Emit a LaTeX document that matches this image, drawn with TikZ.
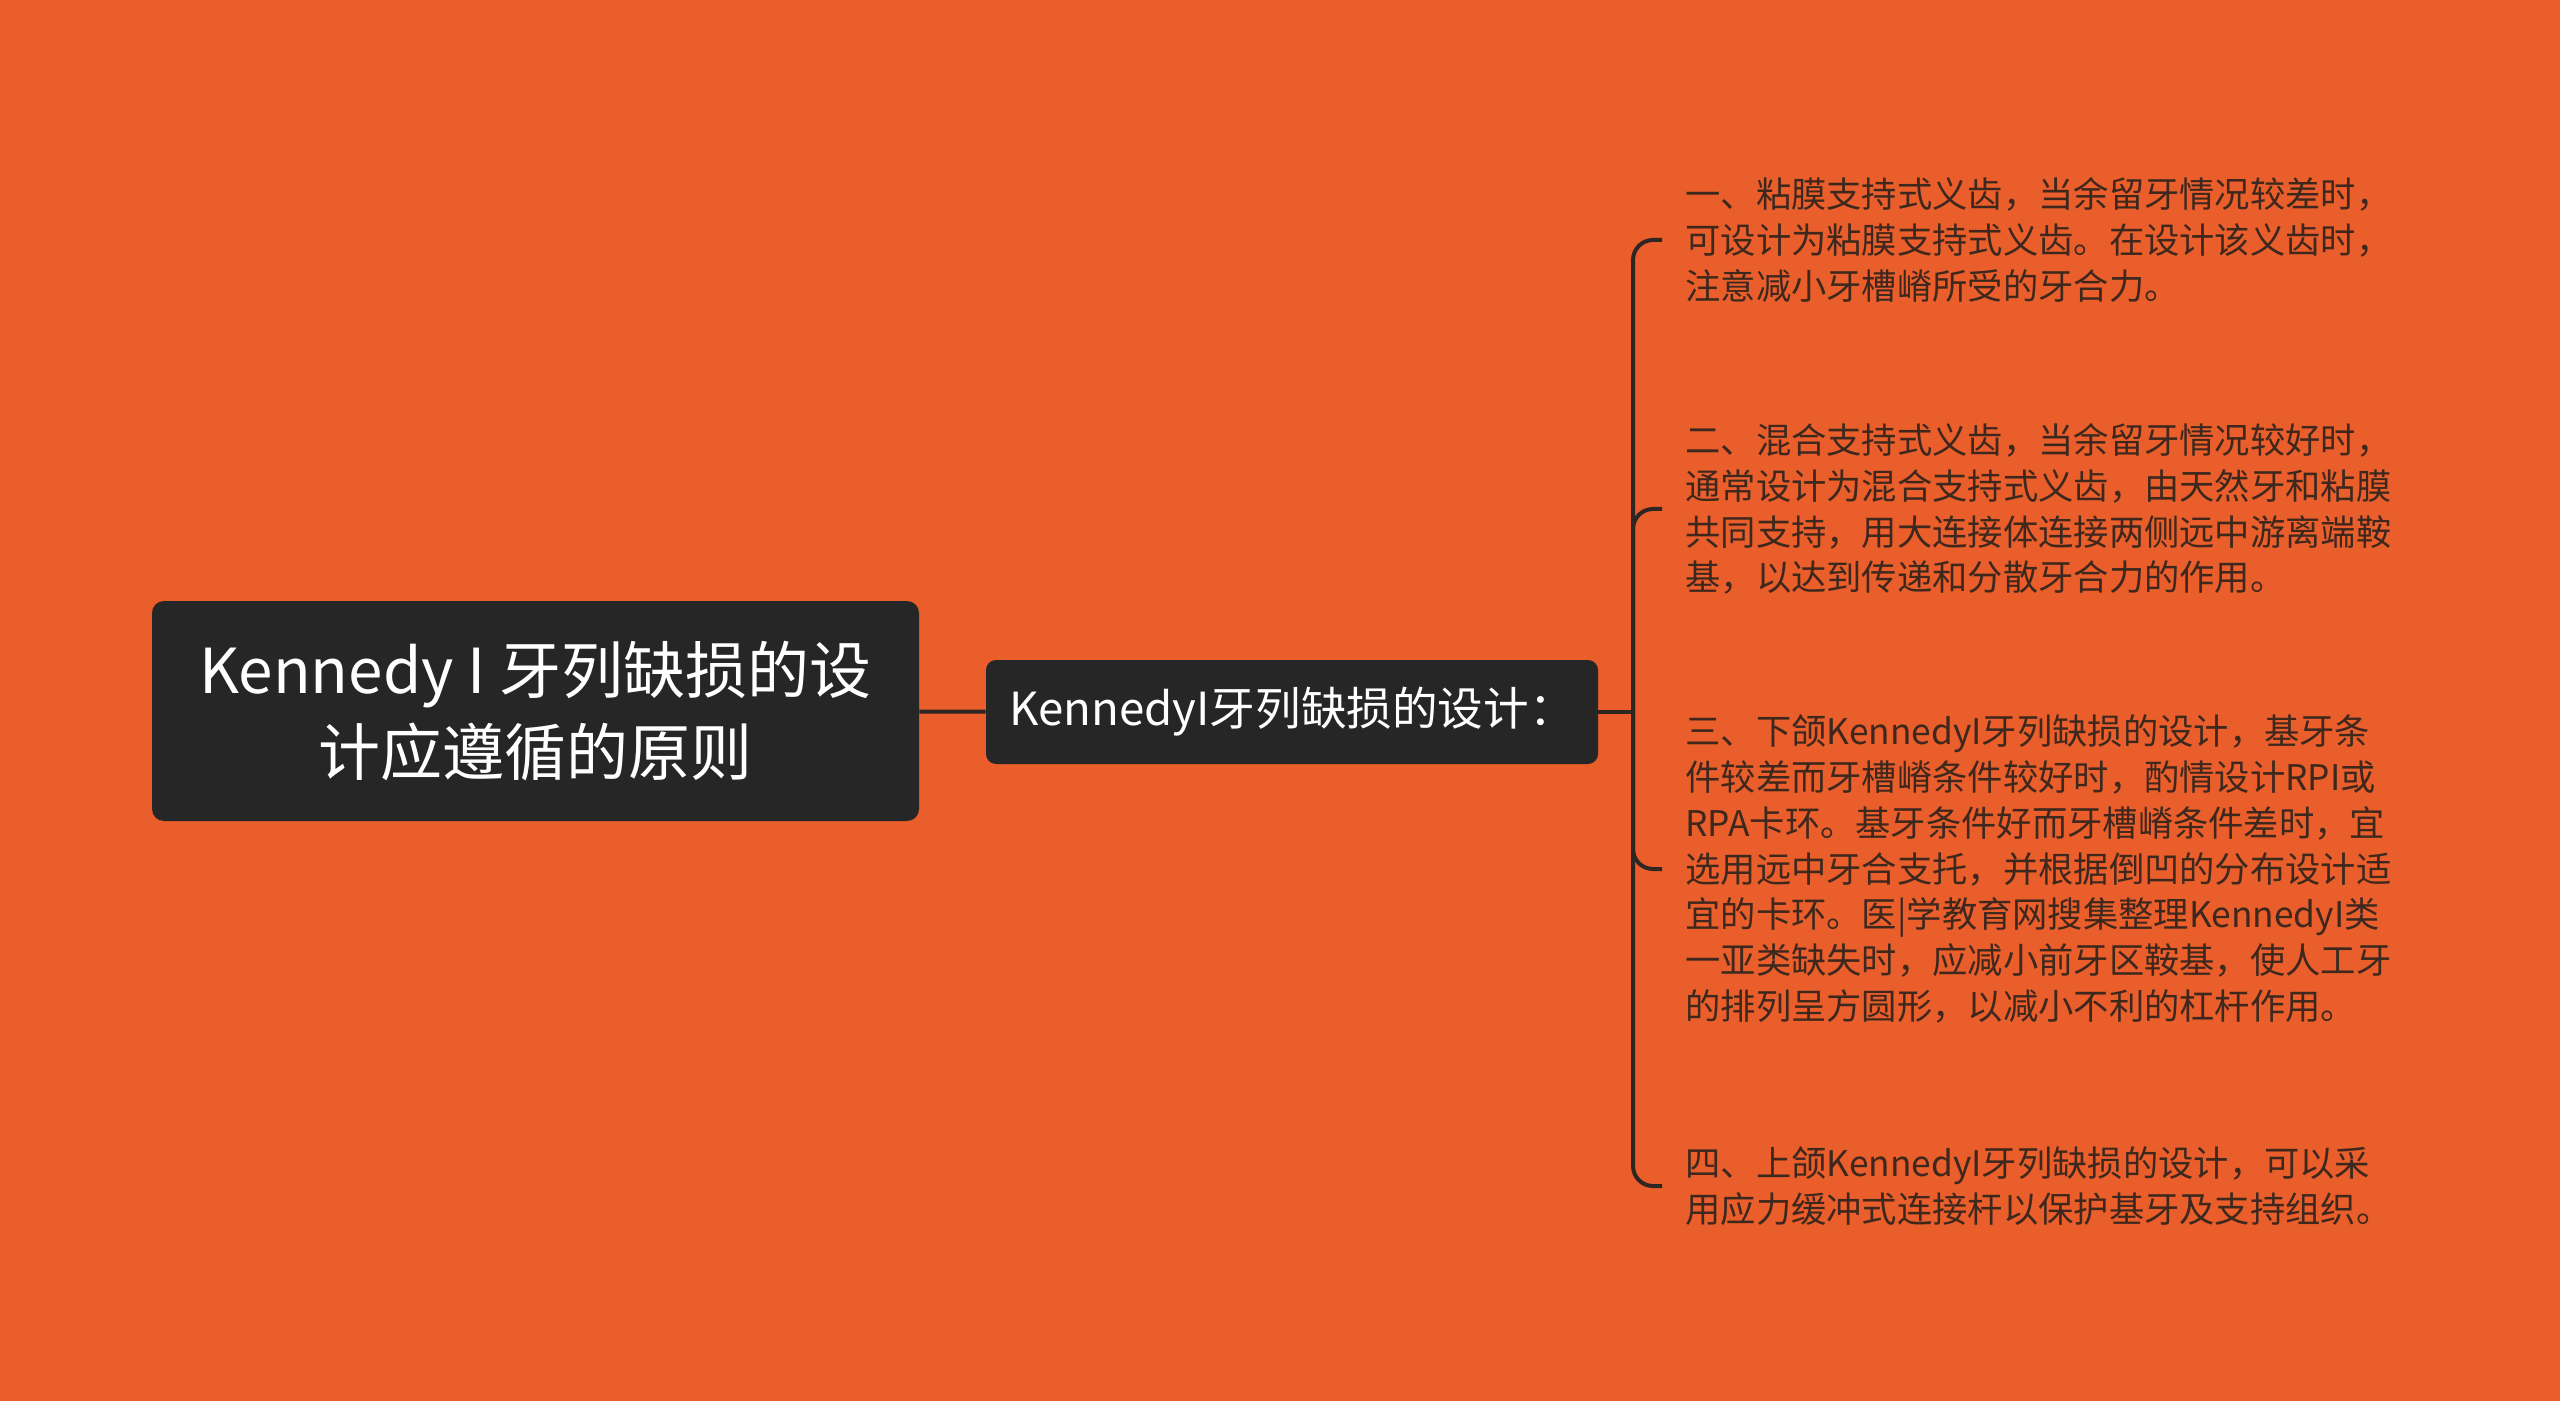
\documentclass[tikz,border=0pt]{standalone}
\usepackage{fontspec}
\newfontfamily\cjk{Noto Sans CJK SC}
\usetikzlibrary{positioning}
\definecolor{BgClr}{RGB}{233,94,42}
\definecolor{BoxClr}{RGB}{38,38,38}
\definecolor{LineClr}{RGB}{45,38,35}
\definecolor{TextClr}{RGB}{62,40,30}

\begin{document}
\begin{tikzpicture}[x=0.5pt,y=-0.5pt,
  rootbox/.style={fill=BoxClr,text=white,rounded corners=6pt,minimum width=383.5pt,
    minimum height=110pt,align=center,font=\cjk\fontsize{31}{41}\selectfont},
  subbox/.style={fill=BoxClr,text=white,rounded corners=5pt,minimum width=306pt,
    minimum height=52pt,font=\cjk\fontsize{22.8}{26}\selectfont},
  leaf/.style={anchor=west,inner xsep=11.5pt,text=TextClr,align=left,
    font=\cjk\fontsize{17.65}{22.9}\selectfont},
  edge/.style={draw=LineClr,line width=2pt,rounded corners=10pt}]

\fill[BgClr] (0,0) rectangle (2560,1401);
\useasboundingbox (0,0) rectangle (2560,1401);

\node[rootbox] (root) at (535.5,711) {Kennedy I 牙列缺损的设\\计应遵循的原则};
\node[subbox] (design) at (1292,712) {KennedyI牙列缺损的设计：};

\coordinate (fork) at (1633,712);

\node[leaf] (one) at (1662,240) {一、粘膜支持式义齿，当余留牙情况较差时，\\可设计为粘膜支持式义齿。在设计该义齿时，\\注意减小牙槽嵴所受的牙合力。};
\node[leaf] (two) at (1662,509) {二、混合支持式义齿，当余留牙情况较好时，\\通常设计为混合支持式义齿，由天然牙和粘膜\\共同支持，用大连接体连接两侧远中游离端鞍\\基，以达到传递和分散牙合力的作用。};
\node[leaf] (three) at (1662,869) {三、下颌KennedyI牙列缺损的设计，基牙条\\件较差而牙槽嵴条件较好时，酌情设计RPI或\\RPA卡环。基牙条件好而牙槽嵴条件差时，宜\\选用远中牙合支托，并根据倒凹的分布设计适\\宜的卡环。医|学教育网搜集整理KennedyI类\\一亚类缺失时，应减小前牙区鞍基，使人工牙\\的排列呈方圆形，以减小不利的杠杆作用。};
\node[leaf] (four) at (1662,1186) {四、上颌KennedyI牙列缺损的设计，可以采\\用应力缓冲式连接杆以保护基牙及支持组织。};

\draw[edge] (root) -- (design);
\draw[edge] (design) -- (fork);
\foreach \leafname in {one,two,three,four}
  \draw[edge] (fork) |- (\leafname.west);

\end{tikzpicture}
\end{document}
